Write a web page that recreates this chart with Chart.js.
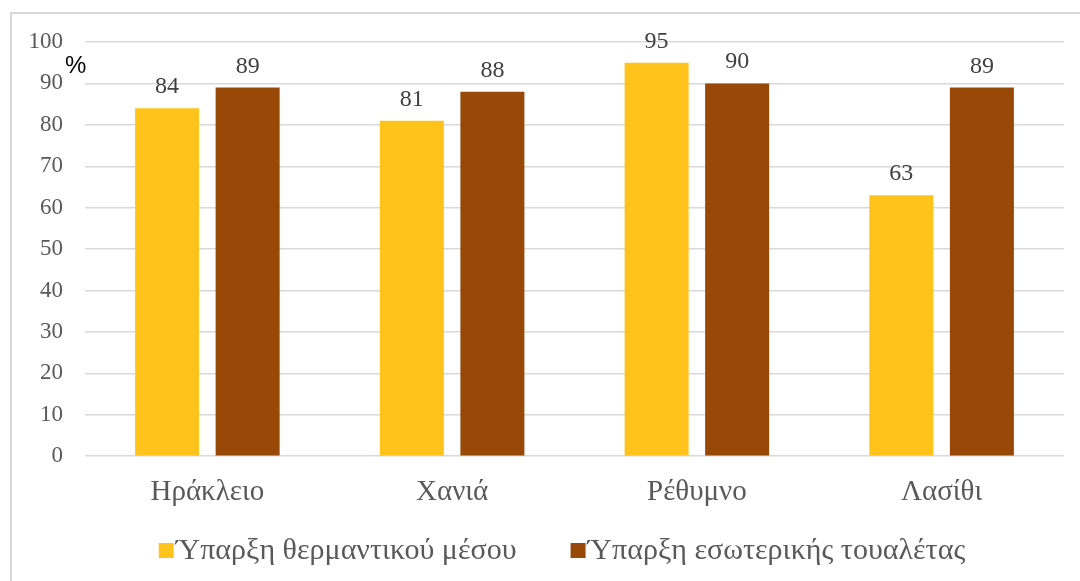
<!DOCTYPE html>
<html>
<head>
<meta charset="utf-8">
<script src="https://cdn.jsdelivr.net/npm/chart.js@4/dist/chart.umd.min.js"></script>
<style>
  html, body { margin: 0; padding: 0; background: #fff; }
  #wrap { position: relative; width: 1080px; height: 581px; }
  #frame { position: absolute; left: 10px; top: 12px; right: 0; bottom: 0;
           border-left: 2px solid #d9d9d9; border-top: 2px solid #d9d9d9; }
  canvas { position: absolute; left: 0; top: 0; }
</style>
</head>
<body>
<div id="wrap">
  <div id="frame"></div>
  <canvas id="chart" width="1080" height="581"></canvas>
</div>
<script>
const regions = ['Ηράκλειο', 'Χανιά', 'Ρέθυμνο', 'Λασίθι'];
const heating = [84, 81, 95, 63];
const toilet = [89, 88, 90, 89];
const seriesNames = ['Ύπαρξη θερμαντικού μέσου', 'Ύπαρξη εσωτερικής τουαλέτας'];
const seriesColors = ['#ffc31b', '#984807'];

const serif = '"Liberation Serif", "DejaVu Serif", serif';

// values above bars, the % mark and the legend
const extras = {
    id: 'extras',
    afterDatasetsDraw(chart) {
        const ctx = chart.ctx;
        ctx.save();
        ctx.font = '24px ' + serif;
        ctx.fillStyle = '#404040';
        ctx.textAlign = 'center';
        ctx.textBaseline = 'alphabetic';
        chart.data.datasets.forEach((ds, i) => {
            chart.getDatasetMeta(i).data.forEach((bar, j) => {
                ctx.fillText(ds.data[j], bar.x, bar.y - 15);
            });
        });

        ctx.font = '24px "Liberation Sans", Arial, sans-serif';
        ctx.fillStyle = '#000';
        ctx.textAlign = 'left';
        ctx.fillText('%', 65, 73);

        // legend
        ctx.font = '30px ' + serif;
        const box = 15, gap = 2, itemGap = 54;
        const widths = chart.data.datasets.map(ds => ctx.measureText(ds.label).width);
        const total = widths.reduce((a, w) => a + box + gap + w, 0) + itemGap * (widths.length - 1);
        let x = 562 - total / 2;
        chart.data.datasets.forEach((ds, i) => {
            ctx.fillStyle = ds.backgroundColor;
            ctx.fillRect(x, 543, box, box);
            ctx.fillStyle = '#595959';
            ctx.fillText(ds.label, x + box + gap, 559);
            x += box + gap + widths[i] + itemGap;
        });
        ctx.restore();
    }
};

new Chart(document.getElementById('chart').getContext('2d'), {
    type: 'bar',
    data: {
        labels: regions,
        datasets: [{
            label: seriesNames[0],
            data: heating,
            backgroundColor: seriesColors[0],
            borderWidth: 0,
            categoryPercentage: 0.658,
            barPercentage: 0.795
        }, {
            label: seriesNames[1],
            data: toilet,
            backgroundColor: seriesColors[1],
            borderWidth: 0,
            categoryPercentage: 0.658,
            barPercentage: 0.795
        }]
    },
    options: {
        responsive: false,
        animation: false,
        layout: { padding: { top: 42, right: 16, bottom: 60, left: 0 } },
        plugins: {
            tooltip: { enabled: false },
            legend: { display: false }
        },
        scales: {
            x: {
                grid: { display: false },
                border: { display: false },
                ticks: { font: { family: serif, size: 29 }, color: '#595959', padding: 11 }
            },
            y: {
                min: 0,
                max: 100,
                afterFit(scale) { scale.width = 85; },
                grid: { color: '#d9d9d9', lineWidth: 1.5, drawTicks: false },
                border: { display: false },
                ticks: { stepSize: 10, font: { family: serif, size: 23 }, color: '#595959', padding: 22 }
            }
        }
    },
    plugins: [extras]
});
</script>
</body>
</html>
